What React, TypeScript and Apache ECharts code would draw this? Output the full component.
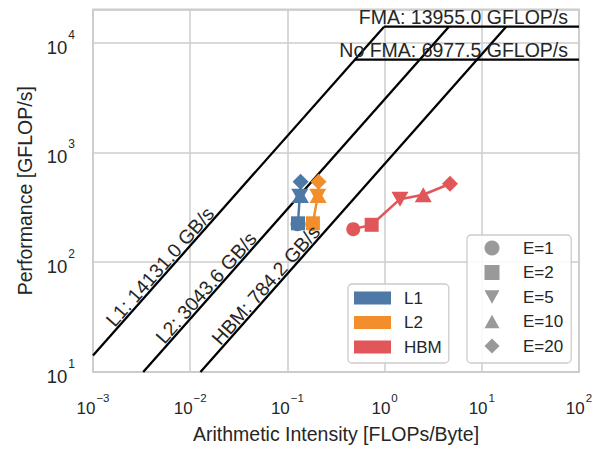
import React, { useEffect, useRef } from "react";
import * as echarts from "echarts";

// ---- data ----
const X_MIN = 1e-3;
const X_MAX = 1e2;
const Y_MIN = 10;
const Y_MAX = 20000;

const memLevels = ["L1", "L2", "HBM"];
const bandwidths = [14131.0, 3043.6, 784.2]; // GB/s
const roofNames = ["FMA", "No FMA"];
const roofPeaks = [13955.0, 6977.5]; // GFLOP/s
const eLabels = ["E=1", "E=2", "E=5", "E=10", "E=20"];

const l1Intensity = [0.127, 0.1285, 0.134, 0.136, 0.1366];
const l1Perf = [222, 226, 398, 404, 540];
const l2Intensity = [0.18, 0.183, 0.205, 0.207, 0.209];
const l2Perf = [222, 226, 398, 404, 540];
const hbmIntensity = [0.476, 0.736, 1.44, 2.5, 4.71];
const hbmPerf = [200, 219, 375, 411, 518];

// where the bandwidth labels sit along their line (x in FLOPs/Byte)
const bwLabelAt = [0.0057, 0.017, 0.07];

// ---- styles ----
const FONT = "'Liberation Sans', Arial, Helvetica, sans-serif";
const TXT = "#262626";
const GRIDC = "#cccccc";
const memColors = ["#4e79a7", "#f28e2b", "#e15759"];
const eSymbols = ["circle", "rect", "triangle", "triangle", "diamond"];
const eRotate = [0, 0, 180, 0, 0];
const eSizes: any[] = [14, 14, [17, 15], [17, 15], 16];
const eLegendSymbols = [
  "circle",
  "rect",
  "path://M0,0L2,0L1,1.8Z",
  "path://M1,0L2,1.8L0,1.8Z",
  "diamond",
];

const seriesData = [
  [l1Intensity, l1Perf],
  [l2Intensity, l2Perf],
  [hbmIntensity, hbmPerf],
];

function expLabel(v: number) {
  const e = Math.log10(v);
  const r = Math.round(e);
  if (Math.abs(e - r) > 1e-6) return "";
  const s = r < 0 ? "\u2212" + -r : String(r);
  return `{b|10}{s|${s}}`;
}

const richX = {
  b: { fontSize: 17, fontFamily: FONT, color: TXT, verticalAlign: "bottom" },
  s: { fontSize: 11.5, fontFamily: FONT, color: TXT, verticalAlign: "top", lineHeight: 24.5, padding: [0, 0, 0, 1] },
};
const richY = {
  b: { fontSize: 18.5, fontFamily: FONT, color: TXT, verticalAlign: "bottom" },
  s: { fontSize: 12, fontFamily: FONT, color: TXT, verticalAlign: "top", lineHeight: 28, padding: [0, 0, 0, 1] },
};

export default function App() {
  const ref = useRef<HTMLDivElement>(null);

  useEffect(() => {
    document.body.style.margin = "0";
    const chart = echarts.init(ref.current!, undefined, { renderer: "svg" });
    const ridgeBw = Math.max(...bandwidths);

    const series: any[] = [];
    bandwidths.forEach((bw, i) => {
      const x0 = Math.max(X_MIN, Y_MIN / bw);
      series.push({
        type: "line",
        name: "roof-" + memLevels[i],
        data: [
          [x0, bw * x0],
          [roofPeaks[0] / bw, roofPeaks[0]],
        ],
        symbol: "none",
        silent: true,
        z: 2,
        lineStyle: { color: "#000", width: 2.3 },
      });
    });
    roofPeaks.forEach((p, j) => {
      series.push({
        type: "line",
        name: "peak-" + roofNames[j],
        data: [
          [p / ridgeBw, p],
          [X_MAX, p],
        ],
        symbol: "none",
        silent: true,
        z: 2,
        lineStyle: { color: "#000", width: 2.3 },
      });
    });
    seriesData.forEach(([xs, ys], i) => {
      series.push({
        type: "line",
        name: memLevels[i],
        data: xs.map((x, k) => ({
          value: [x, ys[k]],
          symbol: eSymbols[k],
          symbolSize: eSizes[k],
          symbolRotate: eRotate[k],
        })),
        color: memColors[i],
        itemStyle: { color: memColors[i], opacity: 1 },
        lineStyle: { color: memColors[i], width: 2.5 },
        showAllSymbol: true,
        z: 3 + i,
      });
    });
    eLabels.forEach((name, k) => {
      series.push({
        type: "scatter",
        name,
        data: [],
        symbol: eLegendSymbols[k],
        itemStyle: { color: "#808080" },
      });
    });

    const option: any = {
      animation: false,
      backgroundColor: "#ffffff",
      textStyle: { fontFamily: FONT },
      grid: {
        left: 93,
        right: 30,
        top: 9.5,
        bottom: 77,
        show: true,
        borderColor: GRIDC,
        borderWidth: 1.8,
        backgroundColor: "#ffffff",
      },
      xAxis: {
        type: "log",
        logBase: 10,
        min: X_MIN,
        max: X_MAX,
        name: "Arithmetic Intensity [FLOPs/Byte]",
        nameLocation: "middle",
        nameGap: 52,
        nameTextStyle: { fontSize: 19.5, color: TXT, fontFamily: FONT },
        axisLine: { show: false },
        axisTick: { show: false },
        minorTick: { show: false },
        splitLine: { show: true, lineStyle: { color: GRIDC, width: 1.5 } },
        axisLabel: {
          margin: 20,
          formatter: expLabel,
          rich: richX,
          showMinLabel: true,
          showMaxLabel: true,
        },
      },
      yAxis: {
        type: "log",
        logBase: 10,
        min: Y_MIN,
        max: Y_MAX,
        name: "Performance [GFLOP/s]",
        nameLocation: "middle",
        nameGap: 58,
        nameTextStyle: { fontSize: 19.5, color: TXT, fontFamily: FONT },
        axisLine: { show: false },
        axisTick: { show: false },
        minorTick: { show: false },
        splitLine: { show: true, lineStyle: { color: GRIDC, width: 1.5 } },
        axisLabel: {
          margin: 18,
          formatter: expLabel,
          rich: richY,
          showMinLabel: true,
          showMaxLabel: true,
        },
      },
      legend: [
        {
          data: memLevels,
          orient: "vertical",
          left: 348,
          top: 284,
          icon: "rect",
          itemWidth: 37,
          itemHeight: 13,
          itemGap: 7.5,
          padding: [5.5, 7, 7.5, 6],
          backgroundColor: "rgba(255,255,255,0.85)",
          borderColor: GRIDC,
          borderWidth: 1.3,
          borderRadius: 4,
          selectedMode: false,
          textStyle: { fontSize: 17, color: TXT, fontFamily: FONT, padding: [0, 0, 0, 8] },
        },
        {
          data: eLabels,
          orient: "vertical",
          left: 467,
          top: 235,
          itemWidth: 15,
          itemHeight: 15,
          itemGap: 7.5,
          padding: [4.5, 8, 8.5, 17.5],
          backgroundColor: "rgba(255,255,255,0.85)",
          borderColor: GRIDC,
          borderWidth: 1.3,
          borderRadius: 4,
          selectedMode: false,
          textStyle: { fontSize: 17, color: TXT, fontFamily: FONT, padding: [0, 0, 0, 18.5] },
        },
      ],
      series,
    };
    chart.setOption(option);

    // annotations positioned through the axes' scales
    const graphics: any[] = [];
    bandwidths.forEach((bw, i) => {
      const xa = bwLabelAt[i];
      const p = chart.convertToPixel({ gridIndex: 0 }, [xa, bw * xa]) as number[];
      const q = chart.convertToPixel({ gridIndex: 0 }, [xa * 10, bw * xa * 10]) as number[];
      const ang = Math.atan2(-(q[1] - p[1]), q[0] - p[0]);
      const off = 9;
      graphics.push({
        type: "text",
        x: p[0] - Math.sin(ang) * off,
        y: p[1] - Math.cos(ang) * off,
        rotation: ang,
        z: 10,
        style: {
          text: `${memLevels[i]}: ${bw.toFixed(1)} GB/s`,
          fontSize: 19.5,
          fontFamily: FONT,
          fill: TXT,
          align: "center",
          verticalAlign: "middle",
        },
      });
    });
    roofPeaks.forEach((pk, j) => {
      const p = chart.convertToPixel({ gridIndex: 0 }, [X_MAX, pk]) as number[];
      graphics.push({
        type: "text",
        x: p[0] - 11,
        y: p[1] - 10,
        z: 10,
        style: {
          text: `${roofNames[j]}: ${pk.toFixed(1)} GFLOP/s`,
          fontSize: 19.5,
          fontFamily: FONT,
          fill: TXT,
          align: "right",
          verticalAlign: "middle",
        },
      });
    });
    chart.setOption({ graphic: graphics });

    return () => chart.dispose();
  }, []);

  return (
    <div
      ref={ref}
      style={{ position: "fixed", left: 0, top: 0, width: 609, height: 449 }}
    />
  );
}
